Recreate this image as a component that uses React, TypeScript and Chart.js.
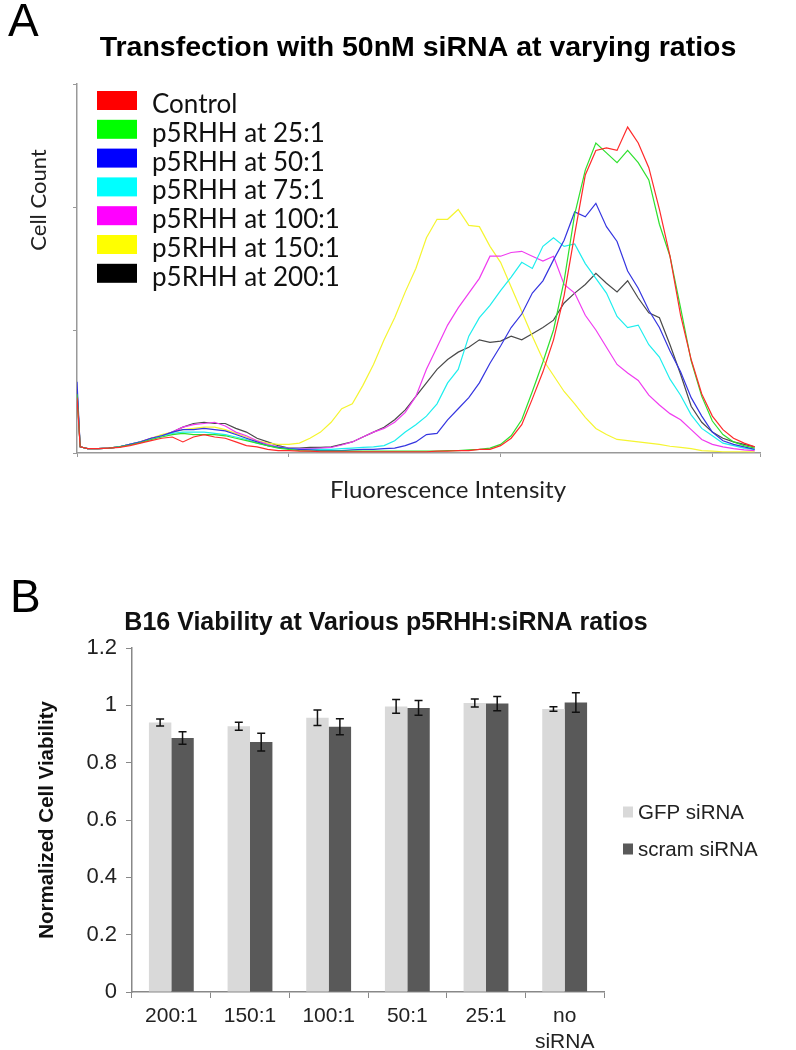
import React, { useEffect, useRef } from 'react';
import { Chart, registerables } from 'chart.js';

Chart.register(...registerables);

// ---------- Panel A: flow cytometry histograms ----------
const titleA = 'Transfection with 50nM siRNA at varying ratios';
const xTitleA = 'Fluorescence Intensity';
const yTitleA = 'Cell Count';

// fluorescence channel positions (arbitrary units, 20 units per decade)
const fluorescence = [
  0, 0.3, 1, 2, 3, 4, 5, 6, 7, 8, 9, 10, 11, 12, 13, 14, 15, 16, 17, 18, 19, 20,
  21, 22, 23, 24, 25, 26, 27, 28, 29, 30, 31, 32, 33, 34, 35, 36, 37, 38, 39, 40,
  41, 42, 43, 44, 45, 46, 47, 48, 49, 50, 51, 52, 53, 54, 55, 56, 57, 58, 59, 60,
  61, 62, 63, 64,
];

const seriesLabels = [
  'Control',
  'p5RHH at 25:1',
  'p5RHH at 50:1',
  'p5RHH at 75:1',
  'p5RHH at 100:1',
  'p5RHH at 150:1',
  'p5RHH at 200:1',
];

const controlCounts = [45, 5,
  3.5, 3.5, 4, 4.5, 6, 8, 10, 12, 13, 9,
  13, 15, 13, 12, 9, 6, 5, 3, 2, 2,
  1.5, 1.5, 1, 1, 1, 1, 1, 1, 1, 1,
  1, 1, 1, 1.5, 1.5, 2, 2, 3, 3, 6,
  12, 23, 44, 66, 92, 128, 178, 226, 246, 248,
  246, 265, 252, 232, 198, 160, 112, 76, 48, 30,
  19, 12, 8, 5];

const ratio25Counts = [48, 5,
  3.5, 3.5, 4, 5, 6.5, 8.5, 11, 13, 15, 16,
  15, 15, 15, 14, 12, 10, 8, 6, 4, 3,
  2, 1.5, 1.5, 1.5, 1.5, 1.5, 1.5, 1.5, 1.5, 1.5,
  1.5, 1.5, 1.5, 1.5, 2, 2, 2.5, 3, 4, 7,
  14, 27, 50, 74, 100, 140, 194, 230, 252, 244,
  236, 246, 236, 222, 186, 160, 118, 75, 46, 26,
  15, 9, 6, 4];

const ratio50Counts = [58, 5,
  3.5, 3.5, 4, 5, 7, 9, 12, 14, 17, 19,
  19, 20, 19, 18, 15, 12, 9, 6, 4.5, 3.5,
  3, 2.5, 2, 2, 2, 2.5, 3, 3, 3.5, 4,
  6, 9, 15, 16, 27, 36, 45, 57, 73, 87,
  102, 113, 130, 140, 157, 173, 196, 192, 203, 184,
  172, 148, 134, 116, 102, 83, 66, 45, 30, 17,
  10, 7, 5, 3];

const ratio75Counts = [50, 5,
  3.5, 3.5, 4, 5, 7, 9, 11, 14, 16, 17,
  17, 17, 16, 15, 13, 11, 8, 6, 4.5, 3.5,
  3, 3, 3, 3, 3.5, 4, 4.5, 5, 6, 10,
  17, 23, 30, 40, 57, 68, 95, 110, 120, 132,
  143, 155, 150, 168, 175, 168, 170, 154, 142, 130,
  111, 102, 104, 88, 78, 60, 47, 31, 20, 14,
  8, 6, 4, 3];

const ratio100Counts = [50, 5,
  3.5, 3.5, 4, 5, 7, 9, 12, 14, 17, 21,
  23, 24, 25, 22, 17, 14, 10, 7, 5, 4,
  3.5, 3.5, 4, 4.5, 6.5, 9, 13, 17, 20, 25,
  33, 46, 68, 86, 104, 118, 130, 142, 160, 160,
  163, 164, 160, 156, 160, 137, 130, 112, 100, 86,
  72, 65, 59, 47, 39, 32, 27, 19, 11, 7,
  5, 3.5, 2.5, 2];

const ratio150Counts = [50, 5,
  3.5, 3.5, 4, 5, 7, 9, 12, 15, 17, 19,
  20, 21, 21, 19, 16, 13, 10, 8, 7, 7,
  8, 12, 17, 25, 36, 40, 55, 72, 92, 110,
  131, 150, 175, 190, 190, 198, 185, 184, 168, 155,
  135, 115, 95, 76, 63, 50, 40, 29, 20, 15,
  11, 10, 9, 8, 7, 5.5, 4.5, 3.5, 2, 1.5,
  1, 1, 1, 1];

const ratio200Counts = [52, 5,
  3.5, 3.5, 4, 5, 7, 9, 12, 14, 17, 21,
  24, 25, 24, 24, 20, 17, 12, 9, 6, 4,
  4, 4.5, 4.5, 5, 7, 9, 13, 17, 21, 27,
  35, 46, 57, 68, 76, 82, 86, 92, 90, 91,
  95, 92, 97, 102, 108, 122, 130, 137, 146, 138,
  131, 140, 126, 114, 110, 88, 64, 38, 25, 17,
  12, 9, 7, 5];

const seriesCounts = [
  controlCounts, ratio25Counts, ratio50Counts, ratio75Counts,
  ratio100Counts, ratio150Counts, ratio200Counts,
];

const lineColors = ['#ff2a2a', '#2ee02e', '#3535e0', '#1eeeee', '#f03cf0', '#f5f530', '#4a4a4a'];
const swatchColors = ['#ff0000', '#00ff00', '#0000ff', '#00ffff', '#ff00ff', '#ffff00', '#000000'];

// ---------- Panel B: viability bars ----------
const titleB = 'B16 Viability at Various p5RHH:siRNA ratios';
const yTitleB = 'Normalized Cell Viability';
const ratioCategories: (string | string[])[] = ['200:1', '150:1', '100:1', '50:1', '25:1', ['no', 'siRNA']];
const gfpViability = [0.94, 0.927, 0.957, 0.996, 1.008, 0.987];
const gfpError = [0.012, 0.014, 0.027, 0.024, 0.014, 0.008];
const scramViability = [0.886, 0.872, 0.925, 0.991, 1.006, 1.01];
const scramError = [0.022, 0.031, 0.028, 0.026, 0.025, 0.034];
const barLabels = ['GFP siRNA', 'scram siRNA'];
const barColors = ['#d9d9d9', '#595959'];

const SANS = '"Liberation Sans", Arial, Helvetica, sans-serif';
const CAL = 'Lato, "Open Sans", sans-serif';

const panelAText = {
  id: 'panelAText',
  afterDraw(chart: any) {
    const ctx = chart.ctx as CanvasRenderingContext2D;
    ctx.save();
    ctx.fillStyle = '#000';
    ctx.textAlign = 'left';
    ctx.textBaseline = 'alphabetic';
    ctx.font = `46px ${SANS}`;
    ctx.fillText('A', 8, 36);
    ctx.font = `bold 28.5px ${SANS}`;
    ctx.textAlign = 'center';
    ctx.fillText(titleA, 418, 56);

    // legend inside the plot
    ctx.textAlign = 'left';
    ctx.font = `26px ${CAL}`;
    chart.data.datasets.forEach((ds: any, i: number) => {
      const top = 91 + i * 28.8;
      ctx.fillStyle = swatchColors[i];
      ctx.fillRect(97, top, 40, 19);
      ctx.fillStyle = '#111';
      ctx.fillText(ds.label, 152, top + 22);
    });

    // axis titles
    ctx.fillStyle = '#222';
    ctx.textAlign = 'center';
    ctx.textBaseline = 'middle';
    ctx.font = `24px ${CAL}`;
    ctx.fillText(xTitleA, 448, 490);
    ctx.save();
    ctx.translate(39, 200);
    ctx.rotate(-Math.PI / 2);
    ctx.font = `22px ${CAL}`;
    ctx.fillText(yTitleA, 0, 0);
    ctx.restore();
    ctx.restore();
  },
};

const panelBText = {
  id: 'panelBText',
  afterDatasetsDraw(chart: any) {
    const ctx = chart.ctx as CanvasRenderingContext2D;
    const yScale = chart.scales.y;
    const errs = [gfpError, scramError];
    ctx.save();
    ctx.strokeStyle = '#111';
    ctx.lineWidth = 1.5;
    chart.data.datasets.forEach((ds: any, di: number) => {
      const meta = chart.getDatasetMeta(di);
      meta.data.forEach((bar: any, i: number) => {
        const v = ds.data[i];
        const e = errs[di][i];
        const x = bar.x;
        const yt = yScale.getPixelForValue(v + e);
        const yb = yScale.getPixelForValue(v - e);
        ctx.beginPath();
        ctx.moveTo(x, yt);
        ctx.lineTo(x, yb);
        ctx.moveTo(x - 4, yt);
        ctx.lineTo(x + 4, yt);
        ctx.moveTo(x - 4, yb);
        ctx.lineTo(x + 4, yb);
        ctx.stroke();
      });
    });
    ctx.restore();
  },
  afterDraw(chart: any) {
    const ctx = chart.ctx as CanvasRenderingContext2D;
    ctx.save();
    ctx.fillStyle = '#000';
    ctx.textAlign = 'left';
    ctx.textBaseline = 'alphabetic';
    ctx.font = `46px ${SANS}`;
    ctx.fillText('B', 10, 52);
    ctx.font = `bold 25px ${SANS}`;
    ctx.textAlign = 'center';
    ctx.textBaseline = 'middle';
    ctx.fillStyle = '#111';
    ctx.fillText(titleB, 386, 63);

    ctx.textAlign = 'left';
    ctx.font = `20.5px ${SANS}`;
    chart.data.datasets.forEach((ds: any, i: number) => {
      const cy = 252 + i * 37;
      ctx.fillStyle = barColors[i];
      ctx.fillRect(623, cy - 5.5, 10, 11);
      ctx.fillStyle = '#222';
      ctx.fillText(ds.label, 638, cy + 1);
    });
    ctx.restore();
  },
};

export default function App() {
  const refA = useRef<HTMLCanvasElement>(null);
  const refB = useRef<HTMLCanvasElement>(null);

  useEffect(() => {
    const chartA = new Chart(refA.current as HTMLCanvasElement, {
      type: 'line',
      data: {
        datasets: seriesLabels.map((label, i) => ({
          label,
          data: fluorescence.map((x, j) => ({ x, y: seriesCounts[i][j] })),
          borderColor: lineColors[i],
          borderWidth: 1.2,
          pointRadius: 0,
          tension: 0,
          fill: false,
        })),
      },
      options: {
        responsive: false,
        animation: false,
        events: [],
        layout: { padding: { top: 84, right: 36, left: 0, bottom: 0 } },
        plugins: { legend: { display: false }, title: { display: false }, tooltip: { enabled: false } },
        scales: {
          x: {
            type: 'linear',
            min: 0,
            max: 64.5,
            afterFit: (s: any) => { s.height = 107; },
            ticks: { stepSize: 20, display: false },
            grid: { drawOnChartArea: false, drawTicks: true, tickLength: 4, color: '#999' },
            border: { color: '#999', width: 1.5 },
          },
          y: {
            type: 'linear',
            min: 0,
            max: 300,
            afterFit: (s: any) => { s.width = 77; },
            ticks: { stepSize: 100, display: false },
            grid: { drawOnChartArea: false, drawTicks: true, tickLength: 4, color: '#999' },
            border: { color: '#999', width: 1.5 },
          },
        },
      } as any,
      plugins: [panelAText],
    });

    const chartB = new Chart(refB.current as HTMLCanvasElement, {
      type: 'bar',
      data: {
        labels: ratioCategories as any,
        datasets: [
          { label: barLabels[0], data: gfpViability, backgroundColor: barColors[0], borderWidth: 0, categoryPercentage: 0.57, barPercentage: 1 },
          { label: barLabels[1], data: scramViability, backgroundColor: barColors[1], borderWidth: 0, categoryPercentage: 0.57, barPercentage: 1 },
        ],
      },
      options: {
        responsive: false,
        animation: false,
        events: [],
        layout: { padding: { top: 88, right: 192, left: 0, bottom: 0 } },
        plugins: { legend: { display: false }, title: { display: false }, tooltip: { enabled: false } },
        scales: {
          x: {
            afterFit: (s: any) => { s.height = 58; },
            ticks: { color: '#222', font: { family: SANS, size: 21, lineHeight: 1.2 }, padding: 6, maxRotation: 0, autoSkip: false },
            grid: { drawOnChartArea: false, drawTicks: true, tickLength: 6, color: '#888', offset: true },
            border: { color: '#888', width: 1.5 },
          },
          y: {
            min: 0,
            max: 1.2,
            afterFit: (s: any) => { s.width = 132; },
            ticks: {
              stepSize: 0.2,
              color: '#222',
              font: { family: SANS, size: 22 },
              padding: 9,
              callback: (v: any) => String(Math.round(Number(v) * 10) / 10),
            },
            grid: { drawOnChartArea: false, drawTicks: true, tickLength: 6, color: '#888' },
            border: { color: '#888', width: 1.5 },
            title: {
              display: true,
              text: yTitleB,
              color: '#111',
              font: { family: SANS, size: 20.5, weight: 'bold' },
              padding: { top: 35, bottom: 0 },
            },
          },
        },
      } as any,
      plugins: [panelBText],
    });

    return () => {
      chartA.destroy();
      chartB.destroy();
    };
  }, []);

  return (
    <div style={{ position: 'absolute', left: 0, top: 0, width: 796, height: 1050, background: '#fff' }}>
      <canvas ref={refA} width={796} height={560} style={{ position: 'absolute', left: 0, top: 0, width: 796, height: 560 }} />
      <canvas ref={refB} width={796} height={490} style={{ position: 'absolute', left: 0, top: 560, width: 796, height: 490 }} />
    </div>
  );
}
